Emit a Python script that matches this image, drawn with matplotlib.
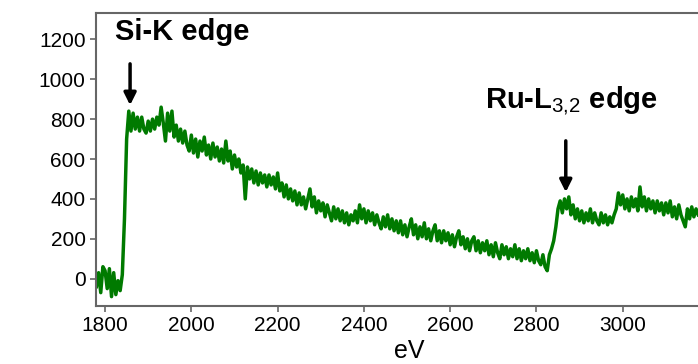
import numpy as np
import matplotlib
matplotlib.use("Agg")
import matplotlib.pyplot as plt

plt.rcParams['font.family'] = ['Liberation Sans', 'DejaVu Sans']
plt.rcParams['mathtext.fontset'] = 'custom'
plt.rcParams['mathtext.rm'] = 'Liberation Sans'
plt.rcParams['mathtext.bf'] = 'Liberation Sans:bold'

# energy channels (eV), 5 eV apart
energy = np.arange(1780, 3180, 5)

# counts, one row per 100 eV
counts = [
    -40, 30, -70, 60, 40, -50, 50, -90, 30, -80, -10, -60, 20, 300, 700, 840, 740, 830, 750, 810,
    740, 810, 750, 730, 790, 740, 800, 750, 810, 770, 860, 780, 690, 830, 740, 840, 710, 770, 690, 750,
    680, 740, 670, 640, 720, 630, 700, 610, 690, 640, 710, 620, 670, 600, 680, 610, 660, 590, 650, 580,
    690, 590, 640, 550, 620, 560, 600, 530, 570, 400, 560, 500, 550, 480, 540, 470, 530, 480, 520, 460,
    520, 470, 510, 450, 530, 440, 480, 410, 470, 400, 450, 390, 440, 370, 430, 370, 410, 350, 400, 450,
    360, 410, 330, 390, 340, 380, 310, 370, 330, 290, 360, 300, 350, 290, 340, 280, 330, 270, 320, 290,
    340, 280, 370, 300, 350, 280, 340, 290, 330, 270, 320, 280, 250, 310, 260, 320, 250, 300, 240, 290,
    230, 290, 220, 270, 210, 260, 300, 220, 270, 200, 260, 210, 280, 200, 250, 190, 240, 270, 190, 240,
    180, 240, 190, 230, 170, 220, 160, 210, 240, 170, 210, 150, 200, 140, 190, 210, 140, 190, 130, 180,
    140, 190, 120, 170, 110, 180, 130, 100, 170, 120, 160, 100, 150, 110, 170, 100, 150, 90, 140, 100,
    150, 90, 130, 80, 140, 90, 70, 120, 60, 40, 120, 150, 190, 260, 350, 390, 330, 400, 350, 410,
    320, 370, 300, 350, 290, 340, 280, 330, 290, 350, 280, 330, 290, 270, 330, 280, 320, 270, 310, 280,
    320, 350, 430, 370, 420, 350, 400, 340, 410, 360, 400, 340, 460, 360, 410, 340, 400, 350, 390, 330,
    390, 340, 380, 320, 380, 330, 390, 310, 360, 300, 370, 320, 290, 260, 350, 300, 360, 310, 350, 320,
]

xticks = [1800, 2000, 2200, 2400, 2600, 2800, 3000]
yticks = [0, 200, 400, 600, 800, 1000, 1200]

fig = plt.figure(figsize=(6.98, 3.64), dpi=100)
ax = fig.add_axes([96 / 698, 58 / 364, 1 - 96 / 698, 293 / 364])

ax.plot(energy, counts, color='#007a00', lw=2.5)

ax.set_xlim(1779, 3174.5)
ax.set_ylim(-137, 1332)
ax.set_xticks(xticks)
ax.set_yticks(yticks)
ax.tick_params(labelsize=15, length=4, width=1.2, color='#666666')
for side in ['left', 'top', 'bottom']:
    ax.spines[side].set_color('#666666')
    ax.spines[side].set_linewidth(1.5)
ax.spines['right'].set_visible(False)

# edge labels and arrows
ax.text(1823, 1196, 'Si-K edge', fontsize=21, fontweight='bold', va='baseline')
ax.annotate('', xy=(1858, 856), xytext=(1858, 1091),
            arrowprops=dict(arrowstyle='-|>', lw=2.5, color='black', mutation_scale=18))
ax.text(2681, 855, r'Ru-L$_{\mathrm{3{,}2}}$ edge', fontsize=21, fontweight='bold', va='baseline')
ax.annotate('', xy=(2868, 420), xytext=(2868, 705),
            arrowprops=dict(arrowstyle='-|>', lw=2.5, color='black', mutation_scale=18))

fig.text(409 / 698, 1 - 358 / 364, 'eV', fontsize=18, ha='center', va='baseline')

plt.savefig('out.png', dpi=100)
